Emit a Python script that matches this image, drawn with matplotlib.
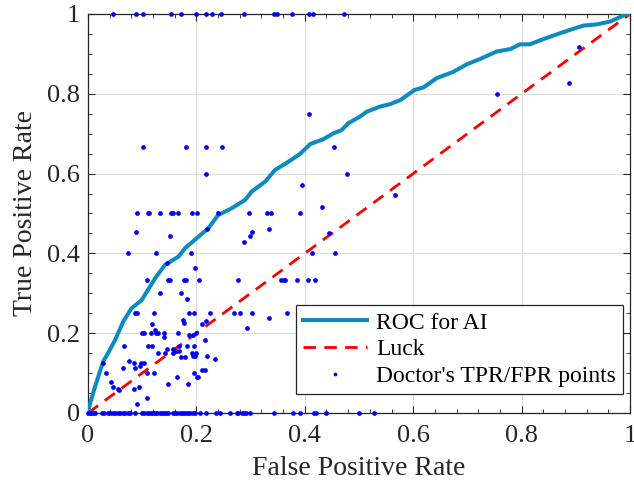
import matplotlib
matplotlib.use("Agg")
import matplotlib.pyplot as plt
from matplotlib.ticker import MultipleLocator

plt.rcParams['font.family'] = ['Liberation Serif', 'DejaVu Serif']
plt.rcParams['mathtext.fontset'] = 'stix'

# ROC curve for AI
roc_fpr = [0, 0.004, 0.013, 0.028, 0.037, 0.050, 0.065, 0.080, 0.099, 0.124, 0.142, 0.167,
           0.179, 0.204, 0.222, 0.240, 0.265, 0.290, 0.302, 0.327, 0.345, 0.370, 0.391, 0.410,
           0.434, 0.453, 0.468, 0.480, 0.502, 0.514, 0.539, 0.557, 0.576, 0.603, 0.619, 0.643,
           0.674, 0.699, 0.723, 0.754, 0.779, 0.797, 0.815, 0.840, 0.865, 0.889, 0.914, 0.939,
           0.963, 0.978, 0.994, 1.0]
roc_tpr = [0, 0.025, 0.066, 0.129, 0.150, 0.183, 0.229, 0.262, 0.283, 0.338, 0.371, 0.392,
           0.413, 0.442, 0.463, 0.496, 0.513, 0.534, 0.555, 0.580, 0.609, 0.630, 0.649, 0.674,
           0.686, 0.701, 0.709, 0.726, 0.743, 0.755, 0.768, 0.774, 0.784, 0.810, 0.816, 0.839,
           0.855, 0.874, 0.887, 0.906, 0.912, 0.924, 0.924, 0.937, 0.949, 0.960, 0.971, 0.974,
           0.981, 0.990, 1.0, 1.0]

# Luck line
luck_x = [0, 1]
luck_y = [0, 1]

# Doctor's points grouped by TPR rows
row_tpr1 = [0.046, 0.089, 0.102, 0.154, 0.171, 0.200, 0.218, 0.228, 0.245, 0.288, 0.344,
            0.349, 0.376, 0.408, 0.416, 0.473]
row_tpr0 = [0.0, 0.003, 0.006, 0.009, 0.012, 0.025, 0.030, 0.036, 0.041, 0.046, 0.050, 0.055,
            0.059, 0.065, 0.069, 0.073, 0.077, 0.087, 0.099, 0.104, 0.108, 0.112, 0.116, 0.12,
            0.124, 0.128, 0.132, 0.136, 0.14, 0.144, 0.148, 0.157, 0.161, 0.165, 0.169, 0.173,
            0.177, 0.181, 0.185, 0.189, 0.193, 0.197, 0.207, 0.217, 0.237, 0.244, 0.262, 0.274,
            0.277, 0.285, 0.288, 0.292, 0.299, 0.343, 0.379, 0.392, 0.417, 0.420, 0.439, 0.500,
            0.528]
row_tpr050 = [0.091, 0.110, 0.112, 0.132, 0.153, 0.156, 0.166, 0.191, 0.202, 0.239, 0.297,
              0.331, 0.337, 0.391]
row_tpr040 = [0.074, 0.126, 0.190, 0.413, 0.455]
row_tpr033 = [0.108, 0.148, 0.151, 0.177, 0.180, 0.205, 0.276, 0.356, 0.362, 0.364, 0.386,
              0.405, 0.418]
row_tpr025 = [0.087, 0.091, 0.121, 0.186, 0.196, 0.226, 0.270, 0.281, 0.303, 0.368]
row_tpr020 = [0.099, 0.104, 0.116, 0.125, 0.129, 0.141, 0.166, 0.199]
row_tpr0167 = [0.066, 0.110, 0.119, 0.167, 0.183, 0.196]
row_tpr015 = [0.130, 0.142, 0.156, 0.191, 0.199]
row_tpr010 = [0.034, 0.108, 0.121, 0.195]

other_fpr = [0.408, 0.102, 0.181, 0.218, 0.247, 0.453, 0.217, 0.478, 0.394, 0.432, 0.566,
             0.755, 0.888, 0.905, 0.220, 0.334, 0.089, 0.303, 0.444, 0.151, 0.299, 0.288,
             0.146, 0.198, 0.132, 0.171, 0.182, 0.334, 0.175, 0.177, 0.218, 0.119, 0.210,
             0.293, 0.124, 0.187, 0.194, 0.141, 0.215, 0.145, 0.157, 0.160, 0.163, 0.167,
             0.194, 0.197, 0.220, 0.172, 0.179, 0.235, 0.075, 0.084, 0.028, 0.097, 0.103,
             0.096, 0.064, 0.087, 0.215, 0.210, 0.165, 0.201, 0.203, 0.042, 0.147, 0.184,
             0.046, 0.094, 0.055, 0.084, 0.057, 0.109, 0.090]
other_tpr = [0.75, 0.667, 0.667, 0.667, 0.667, 0.667, 0.60, 0.60, 0.571, 0.517, 0.546,
             0.80, 0.826, 0.917, 0.462, 0.46, 0.454, 0.454, 0.45, 0.444, 0.444, 0.429,
             0.375, 0.364, 0.30, 0.30, 0.286, 0.237, 0.233, 0.226, 0.23, 0.222, 0.222,
             0.214, 0.208, 0.195, 0.195, 0.191, 0.183, 0.16, 0.16, 0.155, 0.155, 0.155,
             0.143, 0.143, 0.143, 0.141, 0.141, 0.135, 0.13, 0.126, 0.125, 0.125, 0.125,
             0.119, 0.112, 0.112, 0.108, 0.108, 0.091, 0.091, 0.091, 0.077, 0.072, 0.072,
             0.066, 0.066, 0.06, 0.06, 0.058, 0.037, 0.023]

doc_fpr = (row_tpr1 + row_tpr0 + row_tpr050 + row_tpr040 + row_tpr033 + row_tpr025 +
           row_tpr020 + row_tpr0167 + row_tpr015 + row_tpr010 + other_fpr)
doc_tpr = ([1.0] * len(row_tpr1) + [0.0] * len(row_tpr0) + [0.5] * len(row_tpr050) +
           [0.4] * len(row_tpr040) + [0.333] * len(row_tpr033) + [0.25] * len(row_tpr025) +
           [0.2] * len(row_tpr020) + [0.167] * len(row_tpr0167) + [0.15] * len(row_tpr015) +
           [0.1] * len(row_tpr010) + other_tpr)

x_ticks = [0, 0.2, 0.4, 0.6, 0.8, 1]
y_ticks = [0, 0.2, 0.4, 0.6, 0.8, 1]
x_ticklabels = ['0', '0.2', '0.4', '0.6', '0.8', '1']
y_ticklabels = ['0', '0.2', '0.4', '0.6', '0.8', '1']

fig = plt.figure(figsize=(6.34, 4.91), dpi=100)
ax = fig.add_axes([0.1388, 0.1589, 0.8549, 0.8126])

ax.plot(roc_fpr, roc_tpr, color='#0b8bc0', lw=2.9, label='ROC for AI', zorder=3,
        solid_joinstyle='round')
ax.plot(luck_x, luck_y, color='#ff0000', lw=2.0, ls=(0, (4.5, 3.0)), label='Luck', zorder=2)
ax.plot(doc_fpr, doc_tpr, ls='none', marker='o', ms=3.4, mew=0, color='#0000ff',
        label="Doctor's TPR/FPR points", zorder=4, clip_on=False)

ax.set_xlim(0, 1)
ax.set_ylim(0, 1)
ax.set_xticks(x_ticks)
ax.set_xticklabels(x_ticklabels)
ax.set_yticks(y_ticks)
ax.set_yticklabels(y_ticklabels)
ax.xaxis.set_minor_locator(MultipleLocator(0.04))
ax.yaxis.set_minor_locator(MultipleLocator(0.05))
ax.tick_params(which='both', direction='in', top=True, right=True, colors='#262626',
               labelcolor='#262626')
ax.tick_params(which='major', length=5, width=0.8, labelsize=19)
ax.tick_params(axis='x', which='major', pad=9)
ax.tick_params(axis='y', which='major', pad=6)
ax.tick_params(which='minor', length=3, width=0.6)
ax.grid(True, which='major', color='#dcdcdc', lw=0.8)
ax.set_axisbelow(True)
for s in ax.spines.values():
    s.set_color('#262626')
    s.set_linewidth(0.9)

ax.set_xlabel('False Positive Rate', fontsize=20, color='#262626', labelpad=6)
ax.set_ylabel('True Positive Rate', fontsize=20, color='#262626', labelpad=6)

leg = ax.legend(loc='lower right', bbox_to_anchor=(0.987, 0.047), fontsize=17, frameon=True,
                fancybox=False, edgecolor='#262626', framealpha=1, handlelength=2.7,
                borderpad=0.3, labelspacing=0.22, handletextpad=0.4, borderaxespad=0.0,
                markerscale=0.8)
leg.get_frame().set_linewidth(0.9)

fig.savefig('out.png', dpi=100)
